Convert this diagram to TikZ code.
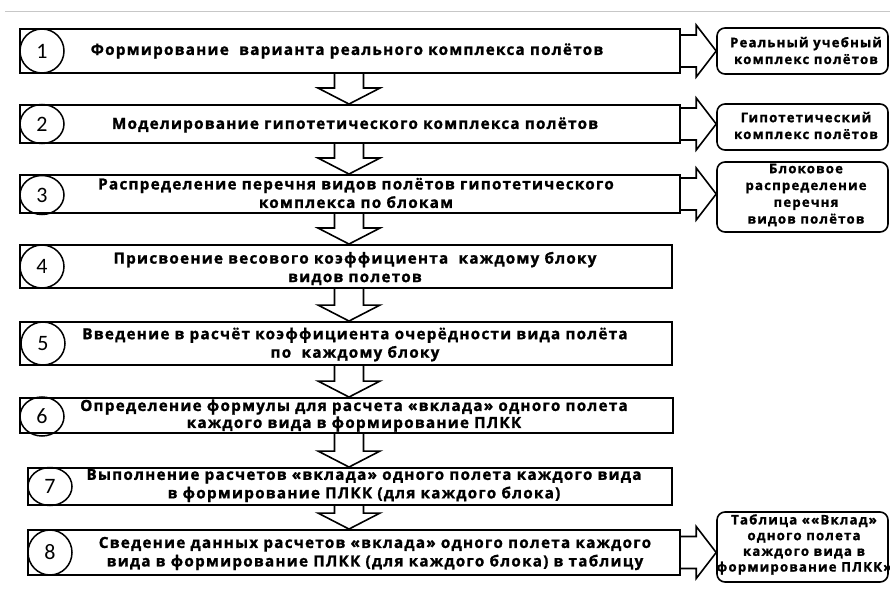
\documentclass[tikz,border=0pt]{standalone}
\usepackage{fontspec}
\setmainfont{Open Sans}
\newfontfamily\boxfont{Open Sans}[LetterSpace=8, BoldFont={Open Sans Bold}, BoldFeatures={FakeBold=1.2}]
\newfontfamily\sidefont{Open Sans}[LetterSpace=9, BoldFont={Open Sans Bold}, BoldFeatures={FakeBold=1.2}]
\newfontfamily\numfont{Carlito}
\usetikzlibrary{calc,shapes.geometric}

\tikzset{
  stepbox/.style={draw=black, line width=1.9pt, inner sep=0pt},
  numring/.style={ellipse, draw=black, line width=1.5pt, inner sep=0pt,
    minimum width=44, font=\numfont\fontsize{22}{22}\selectfont},
  steptext/.style={align=center, inner sep=0pt,
    font=\boxfont\bfseries\fontsize{15.3}{18.5}\selectfont},
  sidebox/.style={draw=black, rounded corners=8pt, line width=1.6pt,
    minimum width=171, inner sep=0pt},
  sidetext/.style={align=center, inner sep=0pt,
    font=\sidefont\bfseries\fontsize{13.2}{16.8}\selectfont},
  blockarrow/.style={draw=black, line width=1.6pt, line join=miter},
}

% hollow block arrow pointing down, from the bottom of #1 to the top of #2
\newcommand\stepflow[2]{%
  \coordinate (fs) at (#1.south -| ax);
  \coordinate (ft) at (#2.north -| ax);
  \draw[blockarrow] ($(fs)+(-14.5,0)$) -- ($(ft)+(-14.5,-16)$)
    -- ($(ft)+(-31,-16)$) -- (ft) -- ($(ft)+(31,-16)$)
    -- ($(ft)+(14.5,-16)$) -- ($(fs)+(14.5,0)$);
}
% hollow block arrow pointing right, from #1 to the side box #2
\newcommand\sideflow[2]{%
  \coordinate (ss) at (#1.east);
  \coordinate (st) at (#2.west |- #1.east);
  \draw[blockarrow] ($(ss)+(0,-16)$) -- ($(st)+(-20,-16)$)
    -- ($(st)+(-20,-26)$) -- (st) -- ($(st)+(-20,26)$)
    -- ($(st)+(-20,16)$) -- ($(ss)+(0,16)$);
}

\begin{document}
\begin{tikzpicture}[x=1pt, y=-1pt]
  \useasboundingbox (0,0) rectangle (890,609);
  \coordinate (ax) at (349,0);

  % separator rule along the top
  \draw[black!22, line width=1pt] (5,12) -- (890,12);

  % main steps
  \node[stepbox, minimum width=660, minimum height=44] (b1) at (350,51) {};
  \node[stepbox, minimum width=660, minimum height=38] (b2) at (350,124) {};
  \node[stepbox, minimum width=660, minimum height=38] (b3) at (350,194) {};
  \node[stepbox, minimum width=652, minimum height=43] (b4) at (346,266.5) {};
  \node[stepbox, minimum width=652, minimum height=43] (b5) at (346,343.5) {};
  \node[stepbox, minimum width=653, minimum height=35] (b6) at (346.5,415.5) {};
  \node[stepbox, minimum width=644, minimum height=37] (b7) at (350,486.5) {};
  \node[stepbox, minimum width=652, minimum height=45] (b8) at (354,552.5) {};

  % step numbers
  \node[numring, minimum height=44] (n1) at (42,51) {1};
  \node[numring, minimum height=39] (n2) at (42,124) {2};
  \node[numring, minimum height=39] (n3) at (42,195) {3};
  \node[numring, minimum height=43] (n4) at (42,266.5) {4};
  \node[numring, minimum height=43] (n5) at (43,343.5) {5};
  \node[numring, minimum height=39] (n6) at (42,416.5) {6};
  \node[numring, minimum height=38] (n7) at (50,486.5) {7};
  \node[numring, minimum height=45] (n8) at (50,552.5) {8};

  % step captions
  \node[steptext] (t1) at (347,51) {Формирование~ варианта реального комплекса полётов};
  \node[steptext] (t2) at (355,125) {Моделирование гипотетического комплекса полётов};
  \node[steptext] (t3) at (356,193) {Распределение перечня видов полётов гипотетического\\комплекса по блокам};
  \node[steptext] (t4) at (355,268.5) {Присвоение весового коэффициента~ каждому блоку\\видов полетов};
  \node[steptext] (t5) at (355,344.5) {Введение в расчёт коэффициента очерёдности вида полёта\\по~ каждому блоку};
  \node[steptext, font=\boxfont\bfseries\fontsize{15.3}{17}\selectfont] (t6) at (354,415.5) {Определение формулы для расчета «вклада» одного полета\\каждого вида в формирование ПЛКК};
  \node[steptext] (t7) at (364,485.5) {Выполнение расчетов «вклада» одного полета каждого вида\\в формирование ПЛКК (для каждого блока)};
  \node[steptext] (t8) at (375,553.5) {Сведение данных расчетов «вклада» одного полета каждого\\вида в формирование ПЛКК (для каждого блока) в таблицу};

  % results
  \node[sidebox, minimum height=46] (r1) at (802.5,51) {};
  \node[sidebox, minimum height=46] (r2) at (802.5,127) {};
  \node[sidebox, minimum height=70] (r3) at (802.5,197) {};
  \node[sidebox, minimum height=70] (r8) at (802.5,547) {};
  \node[sidetext] (s1) at (806,50.5) {Реальный учебный\\комплекс полётов};
  \node[sidetext] (s2) at (806,125.5) {Гипотетический\\комплекс полётов};
  \node[sidetext] (s3) at (806,195) {Блоковое\\распределение\\перечня\\видов полётов};
  \node[sidetext, font=\sidefont\bfseries\fontsize{13.2}{15.7}\selectfont] (s8) at (804,544.5) {Таблица ««Вклад»\\одного полета\\каждого вида в\\формирование ПЛКК»};

  % flow between steps
  \stepflow{b1}{b2}
  \stepflow{b2}{b3}
  \stepflow{b3}{b4}
  \stepflow{b4}{b5}
  \stepflow{b5}{b6}
  \stepflow{b6}{b7}
  \stepflow{b7}{b8}

  % outputs
  \sideflow{b1}{r1}
  \sideflow{b2}{r2}
  \sideflow{b3}{r3}
  \sideflow{b8}{r8}
\end{tikzpicture}
\end{document}
